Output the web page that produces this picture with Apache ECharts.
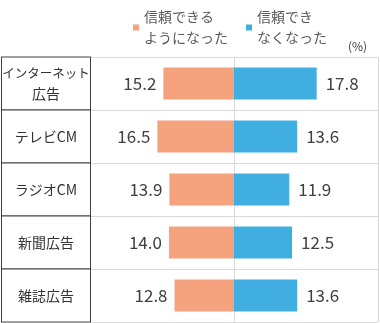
<!DOCTYPE html>
<html><head><meta charset="utf-8">
<script src="https://cdn.jsdelivr.net/npm/echarts@6/dist/echarts.min.js"></script>
<style>html,body{margin:0;padding:0;background:#fff}#c{width:380px;height:323px}</style>
</head><body><div id="c"></div>
<script>
var categories = ['インターネット\n広告', 'テレビCM', 'ラジオCM', '新聞広告', '雑誌広告'];
var trustedMore = [15.2, 16.5, 13.9, 14.0, 12.8];
var trustedLess = [17.8, 13.6, 11.9, 12.5, 13.6];
var seriesNames = ['信頼できる\nようになった', '信頼でき\nなくなった'];
var unitLabel = '(%)';

var FONT = '"Noto Sans CJK JP", sans-serif';
var chart = echarts.init(document.getElementById('c'));
chart.setOption({
  animation: false,
  textStyle: { fontFamily: FONT },
  title: { text: unitLabel, left: 343, top: 35, textStyle: { fontSize: 12, color: '#404040', fontWeight: 'normal', fontFamily: FONT } },
  legend: {
    left: 128, top: -9, itemWidth: 6, itemHeight: 6, itemGap: 18, icon: 'rect',
    data: seriesNames,
    textStyle: { fontSize: 14, color: '#595959', lineHeight: 21, padding: [21, 0, 0, 0], fontFamily: FONT }
  },
  grid: { left: 90, right: 2, top: 57, bottom: 1, containLabel: false, outerBoundsMode: 'none' },
  xAxis: {
    type: 'value', min: -31, max: 31, interval: 31,
    axisLabel: { show: false }, axisTick: { show: false }, axisLine: { show: false },
    splitLine: { show: true, lineStyle: { color: '#d9d9d9', width: 1 } }
  },
  yAxis: {
    type: 'category', data: categories, inverse: true,
    axisTick: { show: false }, axisLine: { show: false },
    splitLine: { show: true, lineStyle: { color: '#d9d9d9', width: 1 } },
    axisLabel: {
      interval: 0, showMinLabel: true, showMaxLabel: true, hideOverlap: false,
      margin: 44, align: 'center', verticalAlign: 'middle',
      width: 88, padding: [5, 0, 5, 0], overflow: 'none',
      borderColor: '#404040', borderWidth: 1, backgroundColor: '#fff',
      fontSize: 14, color: '#333', fontFamily: FONT,
      formatter: function (v) {
        var lines = v.split('\n');
        if (lines.length === 1) return '{m|' + v + '}';
        return lines.map(function (s) { return (s.length > 5 ? '{n|' : '{k|') + s + '}'; }).join('\n');
      },
      rich: {
        n: { fontSize: 12.5, lineHeight: 21, color: '#333', align: 'center', fontFamily: FONT },
        k: { fontSize: 14, lineHeight: 21, color: '#333', align: 'center', fontFamily: FONT },
        m: { fontSize: 14, lineHeight: 42, color: '#333', align: 'center', fontFamily: FONT }
      }
    }
  },
  series: [
    {
      name: seriesNames[0], type: 'bar', barWidth: 32, barGap: '-100%',
      itemStyle: { color: '#F5A37F' },
      data: trustedMore.map(function (v) { return -v; }),
      label: { show: true, position: 'left', distance: 7, fontSize: 17, color: '#404040', fontFamily: FONT,
        formatter: function (p) { return Math.abs(p.value).toFixed(1); } }
    },
    {
      name: seriesNames[1], type: 'bar', barWidth: 32, barGap: '-100%',
      itemStyle: { color: '#40AEE1' },
      data: trustedLess,
      label: { show: true, position: 'right', distance: 9, fontSize: 17, color: '#404040', fontFamily: FONT,
        formatter: function (p) { return p.value.toFixed(1); } }
    }
  ]
});
</script></body></html>
